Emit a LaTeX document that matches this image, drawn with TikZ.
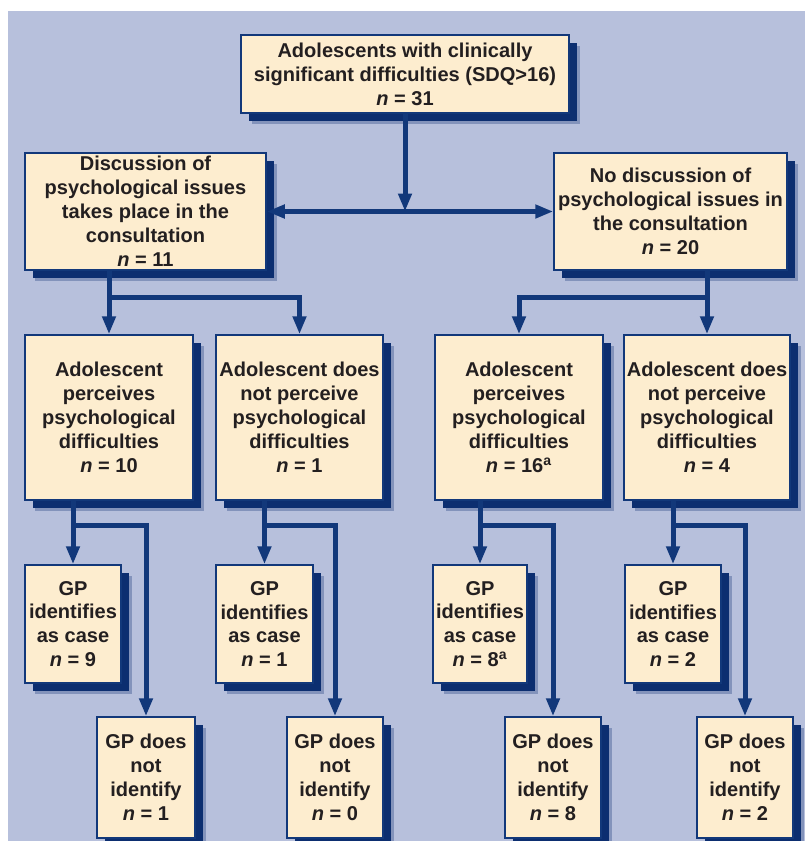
\documentclass[tikz,border=0pt]{standalone}
\usepackage{fontspec}
\setmainfont{Liberation Sans}
\usepackage{tikz}
\usetikzlibrary{arrows.meta, shadows}

\definecolor{bgblue}{RGB}{183,192,220}
\definecolor{boxfill}{RGB}{253,237,207}
\definecolor{navy}{RGB}{18,56,122}
\definecolor{shade}{RGB}{12,46,112}
\definecolor{ink}{RGB}{35,31,32}
\newcommand{\nval}[1]{\textit{n} = #1}

\begin{document}
\begin{tikzpicture}[x=0.2mm, y=-0.2mm,
		box/.style={draw=navy, line width=0.3mm, fill=boxfill, text=ink, align=center, inner sep=0pt,
			font=\fontsize{11.4}{13.6}\selectfont\bfseries,
			drop shadow={shadow xshift=2.1mm, shadow yshift=-2.1mm, fill=shade, opacity=0.3},
			drop shadow={shadow xshift=1.6mm, shadow yshift=-1.6mm, fill=shade, opacity=1}},
		conn/.style={draw=navy, line width=1mm, >={Triangle[width=2.6mm, length=3.6mm]}}]
		\useasboundingbox (0,0) rectangle (805,841);
		\fill[bgblue] (8,11) rectangle (805,841);

		% top and second row
		\node[box, minimum width=65.6mm, minimum height=15.6mm] (top) at (405,74) {Adolescents with clinically\\ significant difficulties (SDQ>16)\\ \nval{31}};
		\node[box, minimum width=48.2mm, minimum height=23.4mm] (disc) at (145.5,211.5) {Discussion of\\ psychological issues\\ takes place in the\\ consultation\\ \nval{11}};
		\node[box, minimum width=46.6mm, minimum height=23.4mm] (nodisc) at (670.5,211.5) {No discussion of\\ psychological issues in\\ the consultation\\ \nval{20}};

		% adolescent perception
		\node[box, minimum width=33.6mm, minimum height=33mm] (percA) at (109,417.5) {Adolescent\\ perceives\\ psychological\\ difficulties\\ \nval{10}};
		\node[box, minimum width=33.4mm, minimum height=33mm] (percB) at (299.5,417.5) {Adolescent does\\ not perceive\\ psychological\\ difficulties\\ \nval{1}};
		\node[box, minimum width=33.6mm, minimum height=33mm] (percC) at (519,417.5) {Adolescent\\ perceives\\ psychological\\ difficulties\\ \nval{16\textsuperscript{a}}};
		\node[box, minimum width=33.2mm, minimum height=33mm] (percD) at (707,417.5) {Adolescent does\\ not perceive\\ psychological\\ difficulties\\ \nval{4}};

		% GP identifies
		\node[box, minimum width=19.2mm, minimum height=23.6mm] (idA) at (73,624) {GP\\ identifies\\ as case\\ \nval{9}};
		\node[box, minimum width=19.4mm, minimum height=23.6mm] (idB) at (264.5,624) {GP\\ identifies\\ as case\\ \nval{1}};
		\node[box, minimum width=18.8mm, minimum height=23.6mm] (idC) at (480,624) {GP\\ identifies\\ as case\\ \nval{8\textsuperscript{a}}};
		\node[box, minimum width=19.2mm, minimum height=23.6mm] (idD) at (673,624) {GP\\ identifies\\ as case\\ \nval{2}};

		% GP does not identify
		\node[box, minimum width=19.6mm, minimum height=24.2mm] (notidA) at (146,777.5) {GP does\\ not\\ identify\\ \nval{1}};
		\node[box, minimum width=19.2mm, minimum height=24.2mm] (notidB) at (335,777.5) {GP does\\ not\\ identify\\ \nval{0}};
		\node[box, minimum width=19.2mm, minimum height=24.2mm] (notidC) at (553,777.5) {GP does\\ not\\ identify\\ \nval{8}};
		\node[box, minimum width=19.2mm, minimum height=24.2mm] (notidD) at (745,777.5) {GP does\\ not\\ identify\\ \nval{2}};

		% connectors
		\coordinate (split) at (top.south |- disc.east);
		\draw[conn, ->] (top.south) -- (split);
		\draw[conn, <->] (disc.east) -- (nodisc.west);

		\coordinate (lsplit) at (percA.north |- 0,297);
		\draw[conn, ->] (percA.north |- disc.south) -- (percA.north);
		\draw[conn, ->] (lsplit) -| (percB.north);
		\coordinate (rsplit) at (percD.north |- 0,297);
		\draw[conn, ->] (percD.north |- nodisc.south) -- (percD.north);
		\draw[conn, ->] (rsplit) -| (percC.north);

		\foreach \p in {A,B,C,D} {
			\draw[conn, ->] (id\p.north |- perc\p.south) -- (id\p.north);
			\draw[conn, ->] (id\p.north |- 0,525) -| (notid\p.north);
		}
	\end{tikzpicture}
\end{document}
